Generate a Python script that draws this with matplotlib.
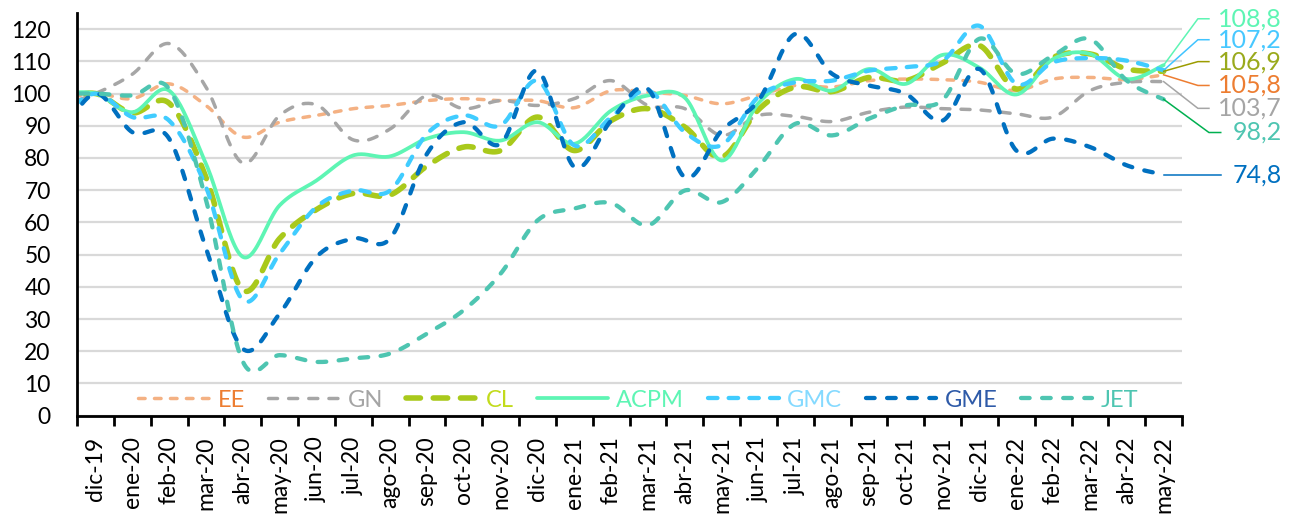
import numpy as np
import matplotlib
matplotlib.use("Agg")
from matplotlib import pyplot as plt

plt.rcParams['font.family'] = ['Lato', 'DejaVu Sans']

months = ["dic-19", "ene-20", "feb-20", "mar-20", "abr-20", "may-20", "jun-20", "jul-20",
          "ago-20", "sep-20", "oct-20", "nov-20", "dic-20", "ene-21", "feb-21", "mar-21",
          "abr-21", "may-21", "jun-21", "jul-21", "ago-21", "sep-21", "oct-21", "nov-21",
          "dic-21", "ene-22", "feb-22", "mar-22", "abr-22", "may-22"]

# nov-19 value sits just left of the axis (only a stub of the curve shows)
ee_prev, gn_prev, cl_prev, acpm_prev, gmc_prev, gme_prev, jet_prev = 98, 96, 98, 100, 92, 86, 100

ee = [100, 98.4, 103, 96.3, 86.5, 91.1, 93.2, 95.3, 96.3, 97.8, 98.4, 97.8, 97.8, 95.6, 100.9,
      100.4, 99.4, 96.8, 99.5, 102.5, 102, 104, 104.5, 104.3, 103.5, 100.9, 104.5, 105, 104.3, 105.8]
gn = [100, 106, 115.5, 102, 78.4, 93.2, 96.5, 85.6, 89, 99.4, 95.3, 97.8, 96.3, 98.4, 104,
      96.3, 95.3, 87, 93.2, 92.9, 91.3, 94.2, 95.8, 95.3, 94.9, 93.7, 92.7, 100.9, 103.5, 103.7]
cl = [100, 94, 97, 74, 39, 55, 64, 69, 68.5, 77.5, 83.4, 82.3, 92.7, 82.3, 91.6,
      95.3, 89.6, 80.3, 95, 102, 100.6, 105, 104, 109.5, 114.9, 101.4, 111.2, 112.3, 107.6, 106.9]
acpm = [100, 94.2, 100.9, 78.2, 49.3, 65.3, 73, 80.8, 80.5, 86, 88, 85.4, 91.1, 84.4, 94.7,
        99.4, 98.7, 79.2, 97, 104.5, 100.9, 107.6, 103, 112, 108, 99.7, 110.7, 112.3, 104.5, 108.8]
gmc = [100, 92.7, 91.6, 71, 35.9, 50.3, 64.8, 69.9, 69.9, 87.5, 93.2, 90.1, 104, 83.9, 92.7,
       100.9, 88, 84, 99, 103.5, 104, 107.1, 108.2, 110.2, 121, 103, 109.7, 111, 110.2, 107.2]
gme = [100, 88, 86, 52, 20.8, 31.7, 49.3, 55, 55, 81.3, 91.1, 84.4, 107.1, 77.2, 91.6,
       101.4, 74, 88.5, 97.8, 118.5, 106.1, 102.5, 99.9, 91.6, 107.6, 82.3, 86, 83.4, 77.7, 74.8]
jet = [100, 99.4, 101.4, 67, 16.8, 18.8, 16.7, 17.8, 19.3, 25.5, 32.8, 44.1, 60.6, 64.3, 66,
       59.1, 69.9, 66.3, 77.2, 90.6, 87, 92.2, 96.3, 98, 117, 106.1, 111.8, 116.9, 104, 98.2]


def smooth(y, n=24):
    # Excel-like smoothed line (Catmull-Rom segments drawn as cubic Bezier)
    pts = np.column_stack([np.arange(len(y)) - 1, y]).astype(float)
    t = np.linspace(0, 1, n)[:, None]
    out = []
    for k in range(len(pts) - 1):
        p0 = pts[max(k - 1, 0)]
        p1, p2 = pts[k], pts[k + 1]
        p3 = pts[min(k + 2, len(pts) - 1)]
        c1 = p1 + (p2 - p0) / 6
        c2 = p2 - (p3 - p1) / 6
        b = (1 - t) ** 3 * p1 + 3 * (1 - t) ** 2 * t * c1 + 3 * (1 - t) * t ** 2 * c2 + t ** 3 * p2
        out.append(b)
    out = np.vstack(out)
    return out[:, 0], out[:, 1]


series = [
    # name, values, prev, color, lw, dashes, legend text color
    ("EE", ee, ee_prev, '#F4B183', 2.5, (1.9, 2.7), '#ED7D31'),
    ("GN", gn, gn_prev, '#A6A6A6', 2.5, (2.6, 3.2), '#A5A5A5'),
    ("CL", cl, cl_prev, '#A9C91B', 4.0, (2.6, 2.3), '#C2DB1C'),
    ("ACPM", acpm, acpm_prev, '#5EF5B4', 2.7, None, '#5EF5B4'),
    ("GMC", gmc, gmc_prev, '#40CCFF', 3.1, (2.2, 2.6), '#85DAFF'),
    ("GME", gme, gme_prev, '#0070C0', 3.1, (2.0, 2.9), '#2E5AA8'),
    ("JET", jet, jet_prev, '#4EC5B1', 3.1, (2.0, 2.9), '#4EC5B1'),
]

fig = plt.figure(figsize=(12.93, 5.19), dpi=100)
ax = fig.add_axes([0.0596, 0.199, 0.8546, 0.776])

for name, vals, prev, color, lw, dashes, _ in series:
    xs, ys = smooth([prev] + vals)
    ls = '-' if dashes is None else (0, dashes)
    ax.plot(xs, ys, color=color, lw=lw, linestyle=ls, label=name,
            dash_capstyle='round', solid_capstyle='round')

ax.set_xlim(-0.5, 29.5)
ax.set_ylim(0, 125)

# end-of-series labels with leader lines
end_labels = [
    # values, label y, bend x, end x, leader color, text color
    (acpm, 123.2, 29.93, 30.23, '#5EF5B4', '#5EF5B4'),
    (gmc, 116.7, 29.93, 30.23, '#40C4FF', '#47C8FF'),
    (cl, 109.9, 29.93, 30.23, '#9C9C00', '#9AAA1C'),
    (ee, 102.5, 29.93, 30.23, '#ED7D31', '#ED7D31'),
    (gn, 95.4, 29.93, 30.23, '#A5A5A5', '#A5A5A5'),
    (jet, 87.9, 30.23, 30.55, '#00B050', '#4EC5B1'),
    (gme, 74.8, 30.23, 30.55, '#0070C0', '#0070C0'),
]
last = len(months) - 1
for vals, ly, bx, ex, lc, tc in end_labels:
    ax.plot([last, bx, ex], [vals[-1], ly, ly], color=lc, lw=1.1, clip_on=False)
    ax.text(32.2, ly, f"{vals[-1]:.1f}".replace(".", ","), color=tc, fontsize=18,
            ha='right', va='center', clip_on=False)

ax.set_yticks(range(0, 121, 10))
ax.tick_params(axis='y', length=0, pad=19, labelsize=16.5)
ax.set_xticks(np.arange(-0.5, 30, 1))
ax.set_xticklabels([])
ax.tick_params(axis='x', which='major', length=7, width=2, direction='out')
ax.set_xticks(np.arange(30), minor=True)
ax.set_xticklabels(months, minor=True, rotation=90)
ax.tick_params(axis='x', which='minor', length=0, pad=15, labelsize=16.5)

for side in ['top', 'right']:
    ax.spines[side].set_visible(False)
for side in ['left', 'bottom']:
    ax.spines[side].set_linewidth(2)
    ax.spines[side].set_color('black')

#grid
ax.set_axisbelow(True)
ax.yaxis.grid(color='#D9D9D9', lw=1.6)

ax.legend(loc='center', bbox_to_anchor=(0.5077, 0.039), ncol=7, frameon=False, fontsize=17,
          handlelength=3.0, handletextpad=0.35, columnspacing=1.0,
          labelcolor=[s[6] for s in series])

fig.savefig("out.png", dpi=100)
